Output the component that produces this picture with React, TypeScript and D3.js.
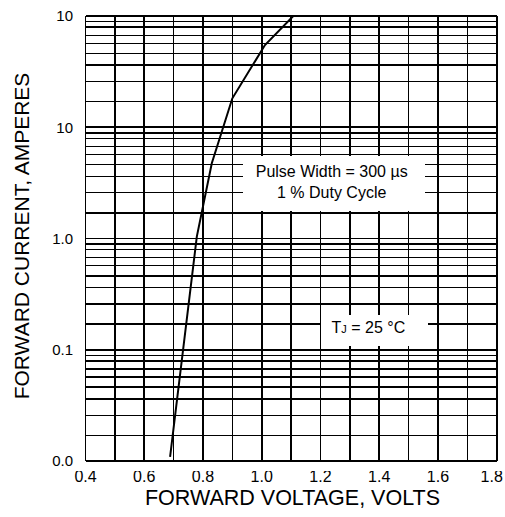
import React from "react";
import * as d3 from "d3";

// Data
const voltage = [0.688, 0.779, 0.83, 0.9, 1.011, 1.1075];
const current = [0.0109, 1.04, 4.74, 18.2, 54.8, 100];

const xTickValues = [0.4, 0.6, 0.8, 1.0, 1.2, 1.4, 1.6, 1.8];
const xTickLabels = ["0.4", "0.6", "0.8", "1.0", "1.2", "1.4", "1.6", "1.8"];
const decadeValues = [0.01, 0.1, 1, 10, 100];
const yTickLabels = ["0.0", "0.1", "1.0", "10", "10"];
// minor gridline factors within each decade (as drawn in the reference)
const minorFactors = [1.7, 2.58, 3.62, 4.62, 5.69, 6.71, 7.94, 8.91];

const W = 505;
const H = 517;
const FONT = "'Liberation Sans', Arial, Helvetica, sans-serif";

export default function App() {
  const x = d3.scaleLinear().domain([0.4, 1.8]).range([85.5, 496.7]);
  const y = d3.scaleLog().domain([0.01, 100]).range([461, 16]);

  const xGrid = d3.range(4, 19).map((v) => v / 10);
  const yMinor: number[] = [];
  decadeValues.slice(0, -1).forEach((d) => minorFactors.forEach((f) => yMinor.push(d * f)));

  const pts: [number, number][] = voltage.map((v, i) => [v, current[i]]);
  const line = d3
    .line<[number, number]>()
    .x((d) => x(d[0]))
    .y((d) => y(d[1]));

  const [x0, x1] = x.range();
  const [yb, yt] = y.range();

  return (
    <svg
      width={W}
      height={H}
      style={{ position: "absolute", left: 0, top: 0, background: "#fff" }}
      fontFamily={FONT}
    >
      <defs>
        <clipPath id="plotclip">
          <rect x={x0} y={yt} width={x1 - x0} height={yb - yt} />
        </clipPath>
        <clipPath id="xlabclip">
          <rect x={0} y={471} width={W} height={60} />
        </clipPath>
      </defs>
      <rect x={0} y={0} width={W} height={H} fill="#fff" />
      {/* grid */}
      <g stroke="#000" shapeRendering="crispEdges">
        {yMinor.map((v, i) => (
          <line key={"ym" + i} x1={x0} x2={x1} y1={y(v)} y2={y(v)} strokeWidth={1.4} />
        ))}
        {decadeValues.map((v, i) => (
          <line key={"yd" + i} x1={x0} x2={x1} y1={y(v)} y2={y(v)} strokeWidth={1.8} />
        ))}
        {xGrid.map((v, i) => (
          <line key={"xg" + i} x1={x(v)} x2={x(v)} y1={yt} y2={yb} strokeWidth={1.6} />
        ))}
      </g>
      {/* curve */}
      <path
        d={line(pts) || ""}
        fill="none"
        stroke="#000"
        strokeWidth={2}
        clipPath="url(#plotclip)"
      />
      {/* annotation boxes */}
      <rect x={243} y={156} width={182} height={55} fill="#fff" />
      <text x={331.7} y={176.7} fontSize={16} textAnchor="middle" fill="#000">
        Pulse Width = 300 µs
      </text>
      <text x={331.7} y={198.3} fontSize={16} textAnchor="middle" fill="#000">
        1 % Duty Cycle
      </text>
      <rect x={321} y={315} width={107} height={31} fill="#fff" />
      <text x={331.5} y={332.7} fontSize={16} fill="#000">
        T<tspan fontSize={11}>J</tspan> = 25 °C
      </text>
      {/* y tick labels */}
      {decadeValues.map((v, i) => (
        <text
          key={"yl" + i}
          x={73}
          y={y(v)}
          dy="0.35em"
          fontSize={15}
          textAnchor="end"
          fill="#000"
        >
          {yTickLabels[i]}
        </text>
      ))}
      {/* x tick labels */}
      <g clipPath="url(#xlabclip)">
        {xTickValues.map((v, i) => (
          <text
            key={"xl" + i}
            x={Math.min(x(v), 491.7)}
            y={482}
            fontSize={16}
            textAnchor="middle"
            fill="#000"
          >
            {xTickLabels[i]}
          </text>
        ))}
      </g>
      {/* axis titles */}
      <text x={292.5} y={504.5} fontSize={21.5} textAnchor="middle" fill="#000">
        FORWARD VOLTAGE, VOLTS
      </text>
      <text
        transform={`translate(29.3,236) rotate(-90)`}
        fontSize={21}
        textAnchor="middle"
        fill="#000"
      >
        FORWARD CURRENT, AMPERES
      </text>
    </svg>
  );
}
